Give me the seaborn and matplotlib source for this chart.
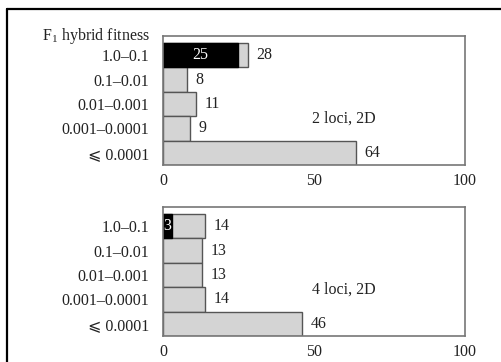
import numpy as np
import pandas as pd
import matplotlib
matplotlib.use("Agg")
import matplotlib.pyplot as plt
from matplotlib.lines import Line2D
import seaborn as sns

CATEGORIES = ["1.0–0.1", "0.1–0.01", "0.01–0.001", "0.001–0.0001", "⩽ 0.0001"]

# total share per fitness class and the part that is the top class (black)
LOCI2_TOTAL = [28, 8, 11, 9, 64]
LOCI2_BLACK = [25, 0, 0, 0, 0]
LOCI4_TOTAL = [14, 13, 13, 14, 46]
LOCI4_BLACK = [3, 0, 0, 0, 0]

PANEL_LABELS = ["2 loci, 2D", "4 loci, 2D"]
X_TICKS = [0, 50, 100]

GRAY = "#d4d4d4"
EDGE = "#555555"
SPINE = "#777777"
FS = 11.5

sns.set_theme(style="white")
plt.rcParams["font.family"] = ["Liberation Serif", "DejaVu Sans"]
plt.rcParams["mathtext.fontset"] = "custom"
plt.rcParams["mathtext.rm"] = "Liberation Serif"
plt.rcParams["mathtext.it"] = "Liberation Serif"

fig = plt.figure(figsize=(5.02, 3.62), dpi=100)
ax1 = fig.add_axes([163 / 502, 1 - 165 / 362, 302 / 502, 129 / 362])
ax2 = fig.add_axes([163 / 502, 1 - 336 / 362, 302 / 502, 129 / 362])


def draw_panel(ax, totals, black, label):
    df = pd.DataFrame({"cat": CATEGORIES, "total": totals, "black": black})
    sns.barplot(data=df, x="total", y="cat", order=CATEGORIES, orient="h",
                color=GRAY, saturation=1, width=1.0, edgecolor=EDGE,
                linewidth=1.0, ax=ax)
    top = df[df["black"] > 0]
    sns.barplot(data=top, x="black", y="cat", order=CATEGORIES, orient="h",
                color="black", saturation=1, width=1.0, edgecolor="black",
                linewidth=1.0, ax=ax)

    for i, row in df.iterrows():
        ax.annotate(str(row["total"]), xy=(row["total"], i), xytext=(6, 0),
                    textcoords="offset points", va="center", ha="left",
                    fontsize=FS, color="#222222")
        if row["black"] > 0:
            ax.text(row["black"] / 2, i, str(row["black"]), color="white",
                    ha="center", va="center", fontsize=FS)

    ax.set_xlim(0, 100)
    ax.set_ylim(4.5, -0.79)
    ax.set_xticks(X_TICKS)
    ax.set_xlabel("")
    ax.set_ylabel("")
    ax.tick_params(axis="x", direction="in", length=5, width=1, color=SPINE,
                   pad=6, labelsize=FS, labelcolor="#222222")
    ax.tick_params(axis="y", length=0, pad=10, labelsize=FS,
                   labelcolor="#222222")
    for s in ax.spines.values():
        s.set_visible(True)
        s.set_color(SPINE)
        s.set_linewidth(1.2)
    ax.text(0.493, 0.36, label, transform=ax.transAxes, ha="left",
            va="center", fontsize=FS, color="#222222")


draw_panel(ax1, LOCI2_TOTAL, LOCI2_BLACK, PANEL_LABELS[0])
draw_panel(ax2, LOCI4_TOTAL, LOCI4_BLACK, PANEL_LABELS[1])

ax1.text(-0.043, 1.0, r"F$_1$ hybrid fitness", transform=ax1.transAxes,
         ha="right", va="center", fontsize=FS, color="#222222")

# outer frame (left and top edges visible in the crop)
fig.add_artist(Line2D([7 / 502, 7 / 502], [0, 1 - 9 / 362], color="black",
                      lw=1.6, transform=fig.transFigure))
fig.add_artist(Line2D([7 / 502, 1], [1 - 9 / 362, 1 - 9 / 362], color="black",
                      lw=1.6, transform=fig.transFigure))

fig.savefig("out.png", dpi=100)
